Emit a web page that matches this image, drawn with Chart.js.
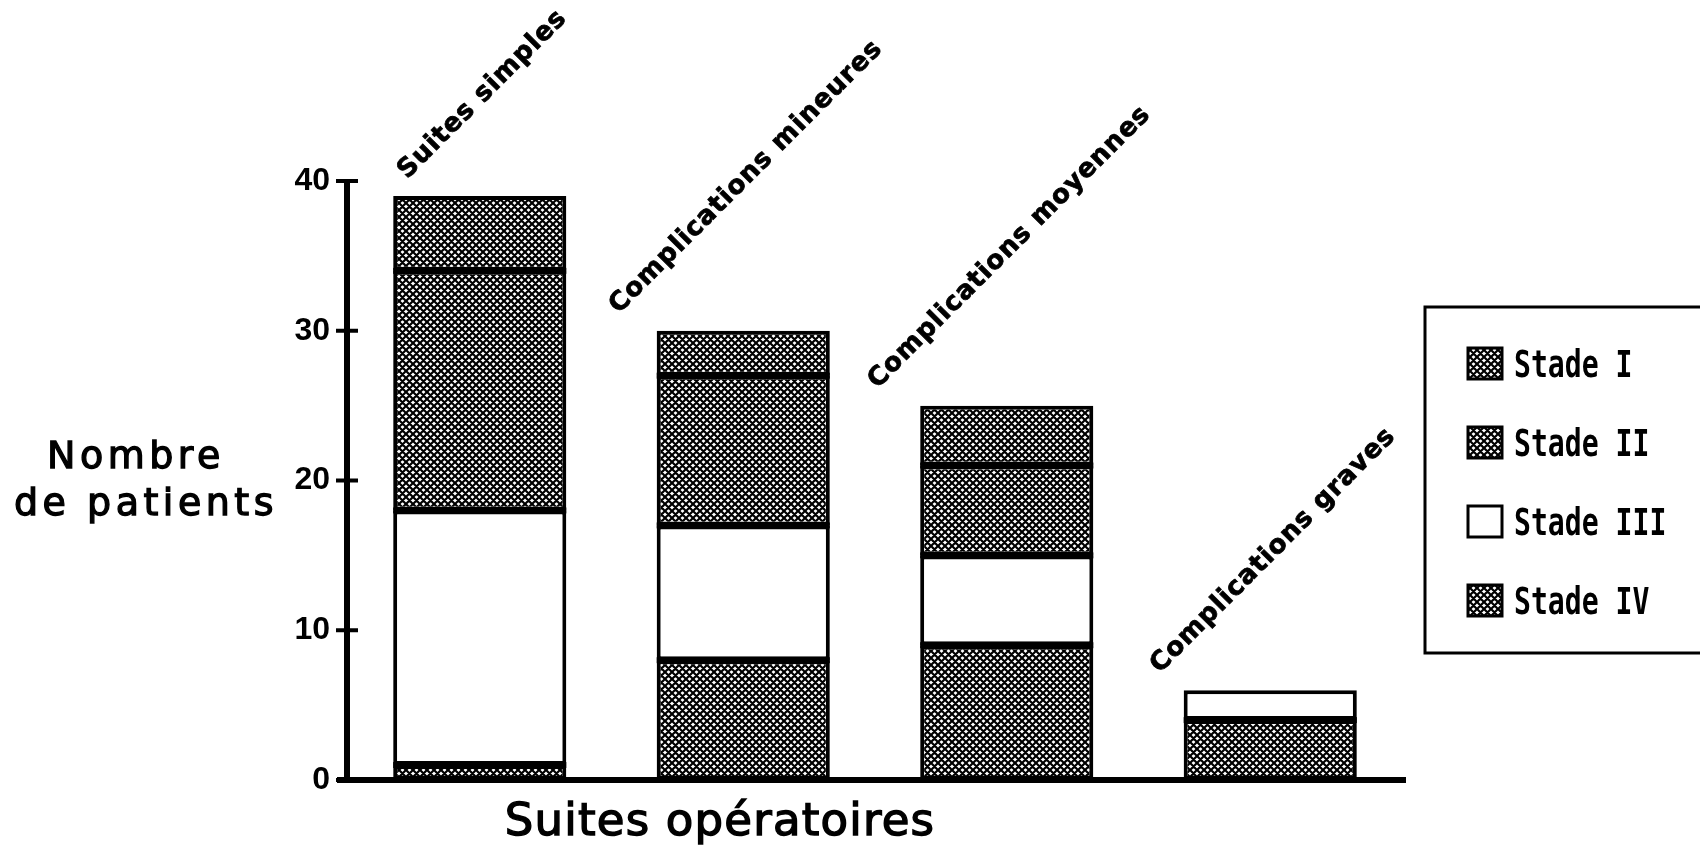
<!DOCTYPE html>
<html>
<head>
<meta charset="utf-8">
<title>Suites opératoires</title>
<script src="https://cdn.jsdelivr.net/npm/chart.js@4"></script>
<style>
  html, body { margin: 0; padding: 0; background: #fff; }
  #wrap { width: 1700px; height: 850px; position: relative; }
</style>
</head>
<body>
<div id="wrap"><canvas id="chart"></canvas></div>
<script>
const categories = ['Suites simples', 'Complications mineures', 'Complications moyennes', 'Complications graves'];
const stadeI   = [5, 3, 4, 0];
const stadeII  = [16, 10, 6, 0];
const stadeIII = [17, 9, 6, 2];
const stadeIV  = [1, 8, 9, 4];
const yTicks = [0, 10, 20, 30, 40];

const canvas = document.getElementById('chart');
const ctx = canvas.getContext('2d');

// crosshatch fill used for stades I, II and IV
function hatch() {
  const s = 7;
  const tile = document.createElement('canvas');
  tile.width = s; tile.height = s;
  const g = tile.getContext('2d');
  g.fillStyle = '#fff';
  g.fillRect(0, 0, s, s);
  g.strokeStyle = '#000';
  g.lineWidth = 2.2;
  g.beginPath();
  for (let k = -1; k <= 1; k++) {
    g.moveTo(k * s, 0); g.lineTo(k * s + s, s);
    g.moveTo(k * s, s); g.lineTo(k * s + s, 0);
  }
  g.stroke();
  return ctx.createPattern(tile, 'repeat');
}
const mesh = hatch();

const totals = categories.map((_, i) => stadeI[i] + stadeII[i] + stadeIII[i] + stadeIV[i]);

const bar = {borderColor: '#000', borderWidth: 4, borderSkipped: false, barPercentage: 0.657, categoryPercentage: 1};

const data = {
  labels: categories,
  datasets: [
    {label: 'Stade IV', data: stadeIV, backgroundColor: mesh, ...bar},
    {label: 'Stade III', data: stadeIII, backgroundColor: '#fff', ...bar},
    {label: 'Stade II', data: stadeII, backgroundColor: mesh, ...bar},
    {label: 'Stade I', data: stadeI, backgroundColor: mesh, ...bar}
  ]
};

// text with a thin outline so the titles read a bit heavier
function heavyText(c, str, x, y, w) {
  c.lineWidth = w;
  c.strokeStyle = '#000';
  c.strokeText(str, x, y);
  c.fillText(str, x, y);
}

const decor = {
  id: 'decor',
  afterDatasetsDraw(chart) {
    const c = chart.ctx;
    const area = chart.chartArea;
    const x = chart.scales.x, y = chart.scales.y;
    c.save();
    c.fillStyle = '#000';

    // heavy rule between stacked segments
    chart.data.datasets.forEach((ds, di) => {
      if (di === chart.data.datasets.length - 1) return;
      chart.getDatasetMeta(di).data.forEach((el, i) => {
        if (!ds.data[i]) return;
        const above = chart.data.datasets.slice(di + 1).some(d => d.data[i] > 0);
        if (!above) return;
        c.fillRect(el.x - el.width / 2, el.y - 3, el.width, 6);
      });
    });

    // axes
    const axX = area.left - 1;
    c.fillRect(axX - 3, y.getPixelForValue(40) - 2, 6, area.bottom - y.getPixelForValue(40) + 5);
    c.fillRect(axX - 10, area.bottom - 3, area.right - axX + 14, 6);
    yTicks.forEach(v => {
      const py = y.getPixelForValue(v);
      c.fillRect(axX - 11, py - 2, 22, 4);
    });

    // category names, slanted above each bar
    c.font = 'bold 26px "DejaVu Sans"';
    c.letterSpacing = '1px';
    c.textAlign = 'center';
    c.textBaseline = 'middle';
    categories.forEach((name, i) => {
      const w = c.measureText(name).width;
      const cx = x.getPixelForValue(i) + 3;
      const cy = y.getPixelForValue(totals[i]) - 14 - (w + 20) * 0.354;
      c.save();
      c.translate(cx, cy);
      c.rotate(-Math.PI / 4);
      heavyText(c, name, 0, 0, 0.8);
      c.restore();
    });

    // axis titles
    c.textBaseline = 'alphabetic';
    c.font = '38px "DejaVu Sans"';
    c.letterSpacing = '4.5px';
    heavyText(c, 'Nombre', 136, 468, 1.3);
    heavyText(c, 'de patients', 146, 515, 1.3);
    c.font = '45px "DejaVu Sans"';
    c.letterSpacing = '1.2px';
    heavyText(c, 'Suites opératoires', 720, 835, 1.4);
    c.letterSpacing = '0px';

    // legend box, top entry is the last stacked dataset
    c.lineWidth = 3;
    c.strokeStyle = '#000';
    c.strokeRect(1425, 307, 300, 346);
    const items = chart.data.datasets.slice().reverse();
    items.forEach((ds, k) => {
      const cy = 363 + k * 79;
      c.fillStyle = ds.backgroundColor;
      c.fillRect(1468, cy - 15, 34, 31);
      c.lineWidth = 3;
      c.strokeRect(1468, cy - 15, 34, 31);
      c.fillStyle = '#000';
      c.save();
      c.translate(1514, cy + 14);
      c.scale(0.76, 1);
      c.font = 'bold 37px "DejaVu Sans Mono"';
      c.textAlign = 'left';
      c.fillText(ds.label, 0, 0);
      c.restore();
    });
    c.restore();
  }
};

new Chart(canvas, {
  type: 'bar',
  data: data,
  options: {
    responsive: true,
    maintainAspectRatio: false,
    animation: false,
    layout: {padding: {top: 181, right: 298, left: 0, bottom: 0}},
    plugins: {legend: {display: false}, tooltip: {enabled: false}},
    scales: {
      x: {
        stacked: true,
        grid: {display: false, drawTicks: false},
        border: {display: false},
        ticks: {display: false},
        afterFit(scale) { scale.height = 70; }
      },
      y: {
        stacked: true,
        min: 0,
        max: 40,
        grid: {display: false, drawTicks: false},
        border: {display: false},
        afterBuildTicks(scale) { scale.ticks = yTicks.map(v => ({value: v})); },
        ticks: {
          padding: 18,
          color: '#000',
          font: {family: '"Liberation Sans"', size: 32, weight: 'bold'}
        },
        afterFit(scale) { scale.width = 348; }
      }
    }
  },
  plugins: [decor]
});
</script>
</body>
</html>
